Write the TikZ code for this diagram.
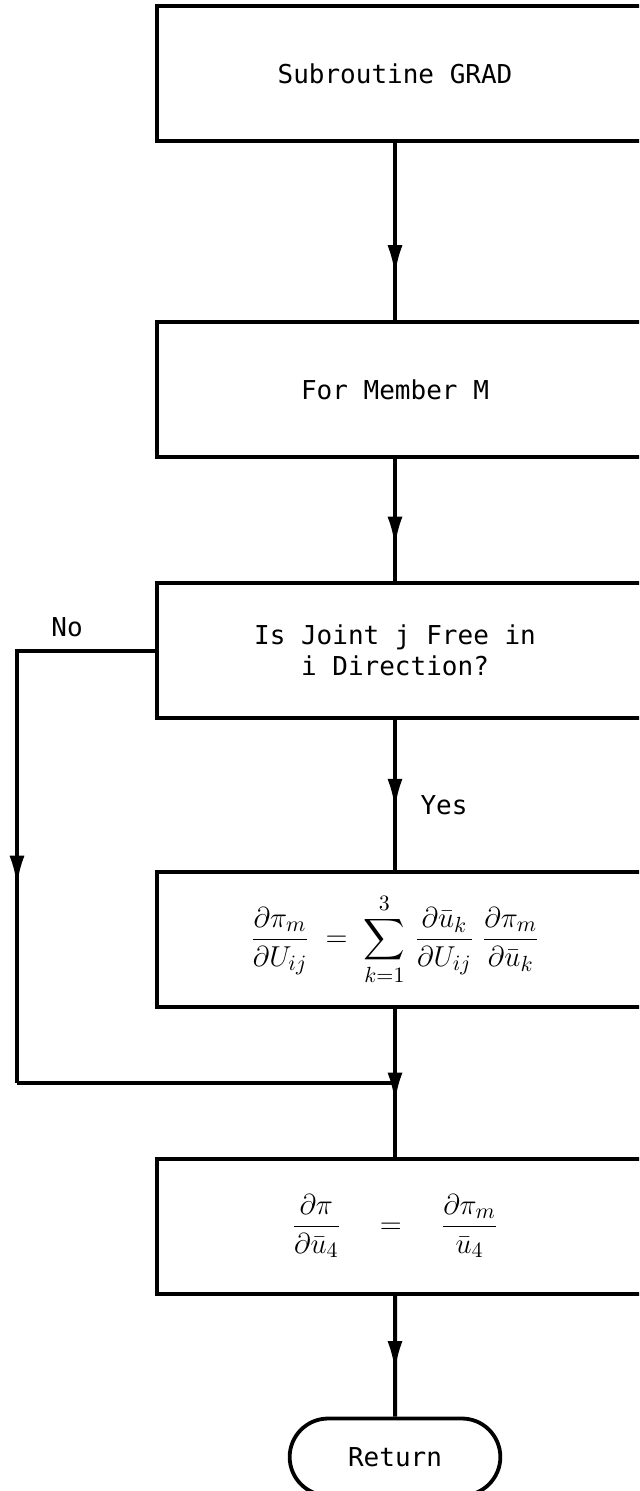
\documentclass[tikz,border=0pt]{standalone}
\usepackage{amsmath}
\usepackage{fontspec}
\setmonofont{DejaVu Sans Mono}
\usetikzlibrary{positioning,shapes.misc,arrows.meta,decorations.markings}

\begin{document}
\begin{tikzpicture}[
  x=0.5pt, y=-0.5pt,
  every node/.style={font=\ttfamily\fontsize{13}{15.5}\selectfont},
  blk/.style={minimum width=238pt, minimum height=67pt, align=center},
  eqn/.style={blk, font=\fontsize{15.5}{18}\selectfont},
  boxline/.style={line width=1.9pt, line join=miter},
  term/.style={draw, rounded rectangle, line width=1.9pt,
               minimum width=112pt, minimum height=38.5pt},
  flow/.style={line width=2pt},
  tipat/.style={postaction={decorate},
    decoration={markings,
      mark=at position #1 with {\arrow{Latex[length=15pt,width=7.5pt]}}}},
  node distance=63pt
]
\useasboundingbox (0,0) rectangle (639,1491);
\clip (0,0) rectangle (639,1491);

\node[blk] (grad) at (395,73.5) {Subroutine GRAD};
\node[blk, below=90.75pt of grad] (member) {For Member M};
\node[blk, below=of member] (free) {Is Joint j Free in\\i Direction?};
\node[eqn, below=77pt of free] (chain)
  {$\displaystyle\frac{\partial\pi_m}{\partial U_{ij}} \;=\;
    \sum_{k=1}^{3}\,\frac{\partial\bar{u}_k}{\partial U_{ij}}\;
    \frac{\partial\pi_m}{\partial\bar{u}_k}$};
\node[eqn, below=76pt of chain] (total)
  {$\displaystyle\frac{\partial\pi}{\partial\bar{u}_4} \quad=\quad
    \frac{\partial\pi_m}{\bar{u}_4}$};
\node[term, below=61.5pt of total] (ret) {Return};

% boxes run off the right edge of the sheet
\foreach \b in {grad,member,free,chain,total}
  \draw[boxline] ([xshift=30pt]\b.north east) -| (\b.south west)
    -- ([xshift=30pt]\b.south east);

\coordinate (nobend) at (17,1083);
\coordinate (nojoin) at (chain.south |- nobend);

\draw[flow, tipat=0.74] (grad) -- (member);
\draw[flow, tipat=0.71] (member) -- (free);
\draw[flow, tipat=0.59] (free) -- (chain);
\draw[flow, tipat=0.63] (chain) -- (total);
\draw[flow, tipat=0.63] (total) -- (ret);

%% No branch round the formula box
\draw[flow, tipat=0.655] (free.west) -| (nobend);
\draw[flow] (nobend) -- (nojoin);

\node (no) at (67,627) {No};
\node (yes) at (444,805) {Yes};

\end{tikzpicture}
\end{document}
